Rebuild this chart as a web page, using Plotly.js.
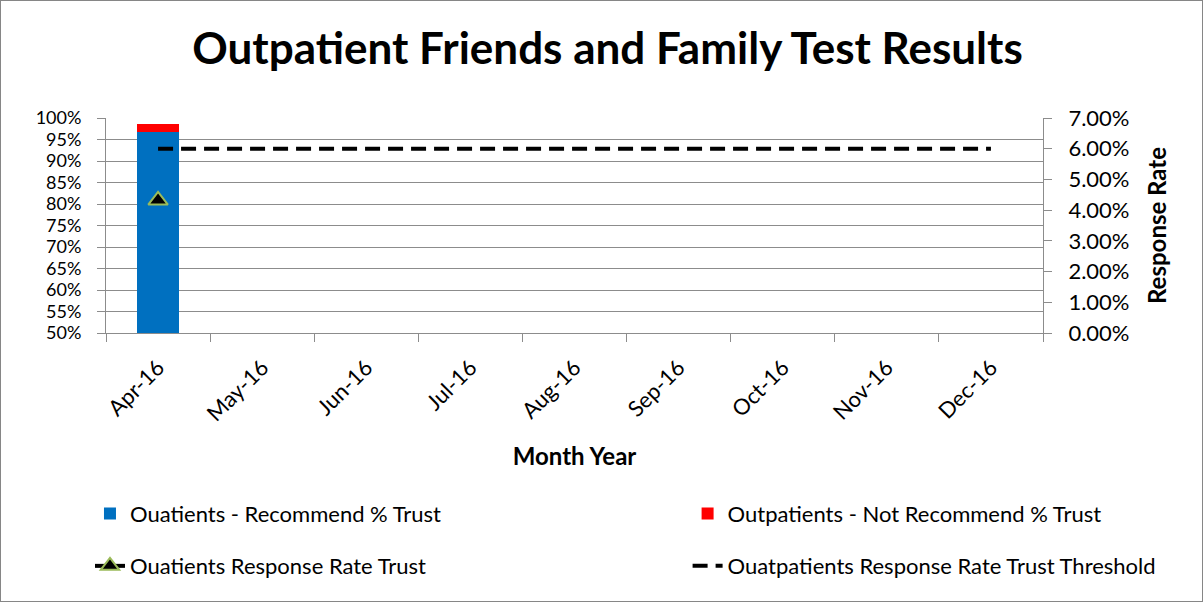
<!DOCTYPE html>
<html>
<head>
<meta charset="utf-8">
<script src="https://cdn.plot.ly/plotly-3.0.1.min.js"></script>
<style>
body{margin:0;padding:0;background:#fff;}
#wrap{position:relative;width:1203px;height:602px;}
#chart{width:1203px;height:602px;}
#frame{position:absolute;left:0;top:0;width:1201px;height:600px;border:1px solid #868686;pointer-events:none;}
</style>
</head>
<body>
<div id="wrap"><div id="chart"></div><div id="frame"></div></div>
<script>
const months = ['Apr-16','May-16','Jun-16','Jul-16','Aug-16','Sep-16','Oct-16','Nov-16','Dec-16'];
const recommendPct = [0.968, null, null, null, null, null, null, null, null];
const notRecommendPct = [0.018, null, null, null, null, null, null, null, null];
const responseRate = [0.0432, null, null, null, null, null, null, null, null];
const responseThreshold = [0.06, 0.06, 0.06, 0.06, 0.06, 0.06, 0.06, 0.06, 0.06];

const FONT = 'Lato, "Open Sans", "Liberation Sans", sans-serif';
const GRID = '#8c8c8c';

const traces = [
  {type:'bar', name:'Ouatients - Recommend % Trust', x:months, y:recommendPct,
   marker:{color:'#0070C0'}, legend:'legend', yaxis:'y'},
  {type:'bar', name:'Outpatients - Not Recommend % Trust', x:months, y:notRecommendPct,
   marker:{color:'#FF0000'}, legend:'legend2', yaxis:'y'},
  {type:'scatter', mode:'lines+markers', name:'Ouatients Response Rate Trust', x:months, y:responseRate,
   line:{color:'#000000', width:4}, marker:{symbol:'triangle-up', size:17, color:'#000000', line:{color:'#9BBB59', width:2}},
   legend:'legend3', yaxis:'y2'},
  {type:'scatter', mode:'lines', name:'Ouatpatients Response Rate Trust Threshold', x:months, y:responseThreshold,
   line:{color:'#000000', width:4, dash:'15px,8px'}, legend:'legend4', yaxis:'y2'}
];

function leg(xp, yp){
  return {orientation:'h', x:xp, xanchor:'left', y:yp, yanchor:'middle',
          font:{size:22}, bgcolor:'rgba(0,0,0,0)'};
}

const layout = {
  width:1203, height:602,
  margin:{l:106, r:160, t:118, b:269, autoexpand:false},
  paper_bgcolor:'#ffffff', plot_bgcolor:'#ffffff',
  font:{family:FONT, size:20, color:'#000'},
  title:{text:'<b>Outpatient Friends and Family Test Results</b>', font:{family:FONT, size:44, color:'#000'},
         x:0.505, xanchor:'center', y:0.92, yanchor:'middle', automargin:false},
  barmode:'stack', bargap:0.6,
  showlegend:true,
  xaxis:{type:'category', range:[-0.5, 8.5], tickangle:-45, ticks:'outside', ticklen:8, tickcolor:GRID, tickson:'boundaries',
         showline:true, linecolor:GRID, linewidth:1, showgrid:false, tickfont:{size:22}, automargin:false,
         ticklabelstandoff:12,
         title:{text:'<b>Month Year</b>', font:{size:24}, standoff:22}},
  yaxis:{range:[0.5,1], dtick:0.05, tickformat:'.0%', ticks:'outside', ticklen:8, tickcolor:GRID, automargin:false,
         showline:true, linecolor:GRID, showgrid:true, gridcolor:GRID, gridwidth:1, zeroline:false, tickfont:{size:18},
         ticklabelstandoff:12},
  yaxis2:{range:[0,0.07], dtick:0.01, tickformat:'.2%', overlaying:'y', side:'right', ticks:'outside', ticklen:8, automargin:false,
          tickcolor:GRID, showline:true, linecolor:GRID, showgrid:false, zeroline:false, tickfont:{size:22},
          ticklabelstandoff:12,
          title:{text:'<b>Response Rate</b>', font:{size:24}, standoff:20}},
  legend: leg(-0.0171, -0.841),
  legend2: leg(0.6207, -0.841),
  legend3: leg(-0.0171, -1.084),
  legend4: leg(0.6207, -1.084)
};

Plotly.newPlot('chart', traces, layout, {displayModeBar:false, staticPlot:true});
</script>
</body>
</html>
